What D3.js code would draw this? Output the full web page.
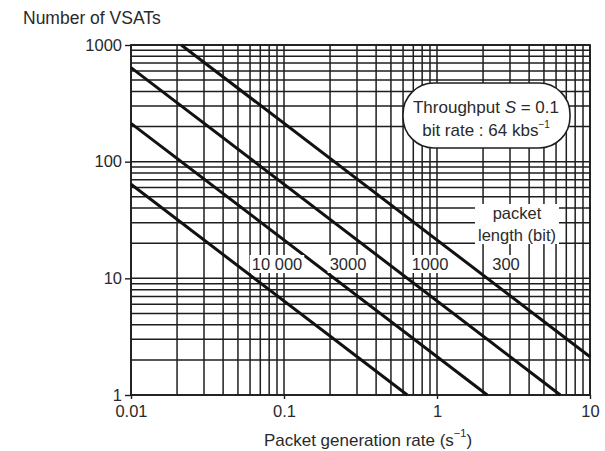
<!DOCTYPE html>
<html>
<head>
<meta charset="utf-8">
<script src="https://cdn.jsdelivr.net/npm/d3@7"></script>
<style>
  html, body { margin: 0; padding: 0; background: #fff; }
  svg { display: block; font-family: "Liberation Sans", Arial, Helvetica, sans-serif; }
</style>
</head>
<body>
<svg id="chart" width="605" height="451"></svg>
<script>
// ---- data ----
const packetLengthLabels = ["10 000", "3000", "1000", "300"];
const lineStartRate   = [0.01, 0.01, 0.01, 0.0213];
const lineStartVsats  = [64, 213, 640, 1000];
const lineEndRate     = [0.64, 2.13, 6.4, 10];
const lineEndVsats    = [1, 1, 1, 2.13];
const xTickValues = [0.01, 0.1, 1, 10];
const xTickLabels = ["0.01", "0.1", "1", "10"];
const yTickValues = [1, 10, 100, 1000];
const yTickLabels = ["1", "10", "100", "1000"];

// ---- layout ----
const svg = d3.select("#chart");
const pL = 131, pR = 590, pT = 45, pB = 395;
const x = d3.scaleLog().domain([0.01, 10]).range([pL, pR]);
const y = d3.scaleLog().domain([1, 1000]).range([pB, pT]);
const ink = "#1e1e1e";
const txt = "#2a2a2a";

// grid: every 1..9 multiple within each decade
function logGrid(lo, hi) {
  const out = [];
  for (let d = lo; d < hi * 0.999; d *= 10)
    for (let k = 1; k <= 9; k++) out.push(d * k);
  out.push(hi);
  return out;
}
const gx = logGrid(0.01, 10), gy = logGrid(1, 1000);

const grid = svg.append("g").attr("stroke", ink).attr("stroke-width", 1.5);
grid.selectAll("line.v").data(gx).join("line").attr("class", "v")
  .attr("x1", d => x(d)).attr("x2", d => x(d))
  .attr("y1", pT).attr("y2", pB);
grid.selectAll("line.h").data(gy).join("line").attr("class", "h")
  .attr("y1", d => y(d)).attr("y2", d => y(d))
  .attr("x1", pL).attr("x2", pR);

// frame
svg.append("rect").attr("x", pL).attr("y", pT)
  .attr("width", pR - pL).attr("height", pB - pT)
  .attr("fill", "none").attr("stroke", ink).attr("stroke-width", 1.8);

// axes
const yAxis = d3.axisLeft(y).tickValues(yTickValues)
  .tickFormat((d, i) => yTickLabels[i]).tickSize(6).tickPadding(3);
const gyA = svg.append("g").attr("transform", `translate(${pL},0)`).call(yAxis);
const xAxis = d3.axisBottom(x).tickValues(xTickValues)
  .tickFormat((d, i) => xTickLabels[i]).tickSize(4).tickPadding(6);
const gxA = svg.append("g").attr("transform", `translate(0,${pB})`).call(xAxis);
[gyA, gxA].forEach(g => {
  g.select(".domain").remove();
  g.selectAll("line").attr("stroke", ink).attr("stroke-width", 1.4);
  g.selectAll("text").attr("fill", txt).attr("font-size", 16.5)
    .attr("font-family", "Liberation Sans, Arial, sans-serif");
});

// main lines
const lineData = packetLengthLabels.map((lab, i) => ({
  lab,
  pts: [[lineStartRate[i], lineStartVsats[i]], [lineEndRate[i], lineEndVsats[i]]]
}));
const lineGen = d3.line().x(d => x(d[0])).y(d => y(d[1]));
svg.append("g").selectAll("path").data(lineData).join("path")
  .attr("d", d => lineGen(d.pts))
  .attr("fill", "none").attr("stroke", "#111").attr("stroke-width", 3);

// labels with white backgrounds
function boxedText(cx, cy, lines, fs, pad, lh) {
  const g = svg.append("g");
  const texts = lines.map((t, i) => g.append("text")
    .attr("x", cx).attr("y", cy + i * lh)
    .attr("text-anchor", "middle").attr("dominant-baseline", "central")
    .attr("font-size", fs).attr("fill", txt).text(t));
  let bb = null;
  texts.forEach(t => {
    const b = t.node().getBBox();
    if (!bb) bb = { x0: b.x, y0: b.y, x1: b.x + b.width, y1: b.y + b.height };
    else { bb.x0 = Math.min(bb.x0, b.x); bb.y0 = Math.min(bb.y0, b.y);
           bb.x1 = Math.max(bb.x1, b.x + b.width); bb.y1 = Math.max(bb.y1, b.y + b.height); }
  });
  g.insert("rect", "text").attr("x", bb.x0 - pad).attr("y", bb.y0)
    .attr("width", bb.x1 - bb.x0 + 2 * pad).attr("height", bb.y1 - bb.y0)
    .attr("fill", "#fff");
  return g;
}
const labelCx = [277, 348, 430, 506];
packetLengthLabels.forEach((lab, i) => boxedText(labelCx[i], 264, [lab], 16.5, 2, 0));
boxedText(517, 213, ["packet", "length (bit)"], 16.5, 3, 22);

// throughput box
const bx = 403, by = 83, bw = 167, bh = 65;
svg.append("rect").attr("x", bx).attr("y", by).attr("width", bw).attr("height", bh)
  .attr("rx", 31).attr("ry", 31).attr("fill", "#fff")
  .attr("stroke", ink).attr("stroke-width", 1.6);
const t1 = svg.append("text").attr("x", 486).attr("y", 107)
  .attr("text-anchor", "middle").attr("dominant-baseline", "central")
  .attr("font-size", 17).attr("fill", txt);
t1.append("tspan").text("Throughput ");
t1.append("tspan").attr("font-style", "italic").text("S");
t1.append("tspan").text(" = 0.1");
const t2 = svg.append("text").attr("x", 486).attr("y", 130)
  .attr("text-anchor", "middle").attr("dominant-baseline", "central")
  .attr("font-size", 17).attr("fill", txt);
t2.append("tspan").text("bit rate : 64 kbs");
t2.append("tspan").attr("dy", -6).attr("font-size", 10).text("−1");

// titles
svg.append("text").attr("x", 23).attr("y", 18).attr("dominant-baseline", "central")
  .attr("font-size", 17.5).attr("fill", txt).text("Number of VSATs");
const xl = svg.append("text").attr("x", 368).attr("y", 440)
  .attr("text-anchor", "middle").attr("dominant-baseline", "central")
  .attr("font-size", 17).attr("fill", txt);
xl.append("tspan").text("Packet generation rate (s");
xl.append("tspan").attr("dy", -7).attr("font-size", 11).text("−1");
xl.append("tspan").attr("dy", 7).text(")");
</script>
</body>
</html>
